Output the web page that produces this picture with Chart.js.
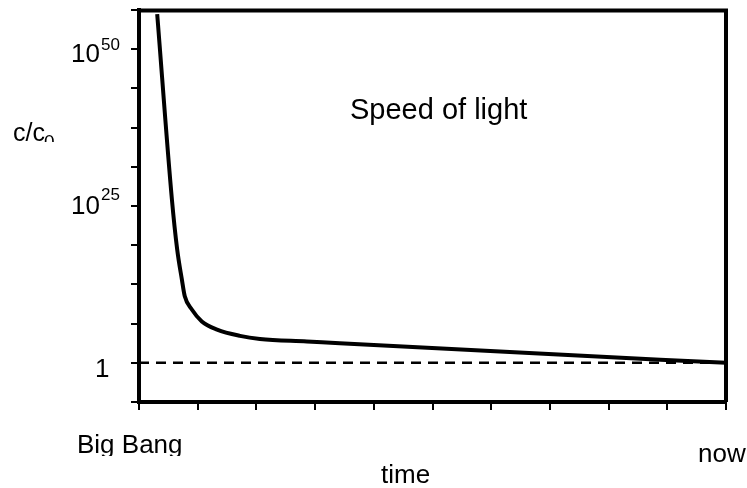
<!DOCTYPE html>
<html>
<head>
<meta charset="utf-8">
<script src="https://cdn.jsdelivr.net/npm/chart.js@4.4.1/dist/chart.umd.min.js"></script>
<style>
  body { margin: 0; background: #fff; }
  canvas { display: block; }
</style>
</head>
<body>
<canvas id="lightChart" width="747" height="488"></canvas>
<script>
// time axis runs from Big Bang (0) to now (10), y is log10(c/c0)
const timeSteps = [0.31, 0.56, 0.65, 0.73, 0.78, 0.90, 1.07, 1.33, 1.72, 2.06, 2.86, 3.42, 6.15, 8.88, 10];
const logSpeed = [55.6, 26.1, 18.1, 13.3, 10.6, 8.5, 6.6, 5.3, 4.3, 3.8, 3.4, 3.1, 1.8, 0.5, 0];

// dashed reference line c = c0
const refTimes = [0, 10];
const refLog = [0, 0];

// labelled y ticks
const yTickValues = [50, 25, 0];
const yTickBase = ['10', '10', '1'];
const yTickExp = ['50', '25', ''];

const FONT = '"Liberation Sans", Arial, sans-serif';

function toPoints(xs, ys) {
    return xs.map((x, i) => ({ x: x, y: ys[i] }));
}

// Draws the top/right frame lines
const framePlugin = {
    id: 'frame',
    afterDatasetsDraw(chart) {
        const { ctx, chartArea } = chart;
        ctx.save();
        ctx.strokeStyle = '#000';
        ctx.lineWidth = 4;
        ctx.beginPath();
        ctx.moveTo(chartArea.left, chartArea.top + 0.5);
        ctx.lineTo(chartArea.right, chartArea.top + 0.5);
        ctx.lineTo(chartArea.right, chartArea.bottom);
        ctx.stroke();
        ctx.restore();
    }
};

// Draws all the text (superscripts, subscript, end labels)
const textPlugin = {
    id: 'texts',
    afterDraw(chart) {
        const { ctx } = chart;
        const yScale = chart.scales.y;
        ctx.save();
        ctx.fillStyle = '#000';
        ctx.textBaseline = 'alphabetic';
        ctx.textAlign = 'left';

        // y tick labels
        const baseDy = [13, 8, 14];
        const expDy = [1, -6, 0];
        yTickValues.forEach((v, i) => {
            const py = yScale.getPixelForValue(v);
            ctx.font = '26px ' + FONT;
            const bx = yTickExp[i] ? 71 : 95;
            ctx.fillText(yTickBase[i], bx, py + baseDy[i]);
            if (yTickExp[i]) {
                ctx.font = '17px ' + FONT;
                ctx.fillText(yTickExp[i], 101, py + expDy[i]);
            }
        });

        // y axis title c/c0 (subscript is clipped in the original)
        ctx.font = '25px ' + FONT;
        ctx.fillText('c/c', 13, 141);
        ctx.save();
        ctx.beginPath();
        ctx.rect(0, 0, 100, 142);
        ctx.clip();
        ctx.font = '19px ' + FONT;
        ctx.fillText('0', 44, 148);
        ctx.restore();

        // chart caption
        ctx.font = '29px ' + FONT;
        ctx.fillText('Speed of light', 350, 119);

        // x axis end labels
        ctx.save();
        ctx.beginPath();
        ctx.rect(0, 0, 300, 456);
        ctx.clip();
        ctx.font = '26px ' + FONT;
        ctx.fillText('Big Bang', 77, 453);
        ctx.restore();

        ctx.font = '26px ' + FONT;
        ctx.fillText('now', 698, 462);
        ctx.fillText('time', 381, 483);
        ctx.restore();
    }
};

const ctx = document.getElementById('lightChart').getContext('2d');
const lightChart = new Chart(ctx, {
    type: 'line',
    data: {
        datasets: [{
            label: 'c/c0',
            data: toPoints(timeSteps, logSpeed),
            borderColor: '#000',
            borderWidth: 4,
            pointRadius: 0,
            cubicInterpolationMode: 'monotone',
            fill: false
        }, {
            label: 'c0',
            data: toPoints(refTimes, refLog),
            borderColor: '#000',
            borderWidth: 2.5,
            borderDash: [10, 7],
            pointRadius: 0,
            fill: false
        }]
    },
    options: {
        responsive: false,
        devicePixelRatio: 1,
        animation: false,
        layout: {
            padding: { top: 10, right: 21, left: 0, bottom: 0 }
        },
        plugins: {
            legend: { display: false },
            tooltip: { enabled: false }
        },
        scales: {
            x: {
                type: 'linear',
                min: 0,
                max: 10,
                ticks: { display: false, stepSize: 1 },
                grid: {
                    drawOnChartArea: false,
                    drawTicks: true,
                    tickLength: 8,
                    color: '#000',
                    lineWidth: 2
                },
                border: { display: true, color: '#000', width: 4 },
                afterFit(scale) { scale.height = 86; }
            },
            y: {
                type: 'linear',
                min: -6.25,
                max: 56.25,
                ticks: { display: false, stepSize: 6.25 },
                grid: {
                    drawOnChartArea: false,
                    drawTicks: true,
                    tickLength: 8,
                    color: '#000',
                    lineWidth: 2
                },
                border: { display: true, color: '#000', width: 4 },
                afterFit(scale) { scale.width = 139; }
            }
        }
    },
    plugins: [framePlugin, textPlugin]
});
</script>
</body>
</html>
